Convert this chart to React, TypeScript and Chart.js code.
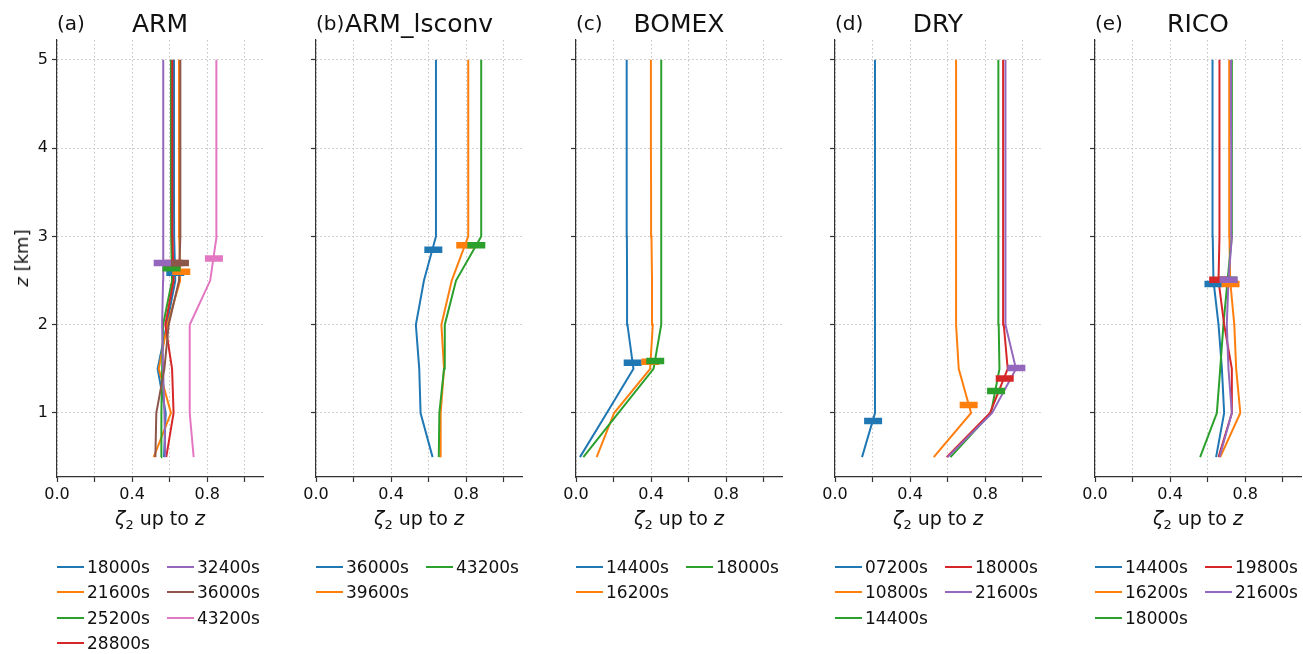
import React, { useEffect, useRef } from 'react';
import { Chart, registerables } from 'chart.js';

Chart.register(...registerables);

// ---------- data ----------
const heights = [0.5, 1.0, 1.5, 2.0, 2.5, 3.0, 3.5, 4.0, 4.5, 5.0];

const armTimes = ['18000s', '21600s', '25200s', '28800s', '32400s', '36000s', '43200s'];
const arm18000 = [0.570, 0.579, 0.536, 0.585, 0.630, 0.624, 0.623, 0.623, 0.623, 0.623];
const arm21600 = [0.515, 0.607, 0.542, 0.588, 0.656, 0.651, 0.650, 0.650, 0.650, 0.650];
const arm25200 = [0.554, 0.556, 0.560, 0.565, 0.613, 0.608, 0.607, 0.607, 0.607, 0.607];
const arm28800 = [0.582, 0.621, 0.613, 0.577, 0.621, 0.615, 0.614, 0.614, 0.614, 0.614];
const arm32400 = [0.577, 0.572, 0.565, 0.560, 0.565, 0.566, 0.566, 0.566, 0.566, 0.566];
const arm36000 = [0.524, 0.529, 0.572, 0.595, 0.650, 0.657, 0.657, 0.657, 0.657, 0.657];
const arm43200 = [0.728, 0.707, 0.707, 0.707, 0.816, 0.850, 0.849, 0.849, 0.849, 0.849];
const armBarZ = [2.59, 2.60, 2.64, 2.70, 2.70, 2.70, 2.75];
const armBarX = [0.630, 0.662, 0.610, 0.622, 0.563, 0.655, 0.836];

const lsTimes = ['36000s', '39600s', '43200s'];
const ls36000 = [0.621, 0.557, 0.550, 0.532, 0.575, 0.639, 0.639, 0.639, 0.639, 0.639];
const ls39600 = [0.664, 0.664, 0.682, 0.668, 0.723, 0.811, 0.811, 0.811, 0.811, 0.811];
const ls43200 = [0.654, 0.657, 0.682, 0.686, 0.746, 0.880, 0.880, 0.880, 0.880, 0.880];
const lsBarZ = [2.85, 2.90, 2.90];
const lsBarX = [0.625, 0.795, 0.854];

const bomexTimes = ['14400s', '16200s', '18000s'];
const bomex14400 = [0.021, 0.164, 0.306, 0.274, 0.272, 0.271, 0.270, 0.270, 0.270, 0.270];
const bomex16200 = [0.110, 0.203, 0.395, 0.409, 0.405, 0.402, 0.400, 0.399, 0.399, 0.399];
const bomex18000 = [0.039, 0.226, 0.413, 0.454, 0.454, 0.454, 0.454, 0.454, 0.454, 0.454];
const bomexBarZ = [1.57, 1.58, 1.59];
const bomexBarX = [0.302, 0.396, 0.422];

const dryTimes = ['07200s', '10800s', '14400s', '18000s', '21600s'];
const dry07200 = [0.144, 0.213, 0.213, 0.213, 0.213, 0.213, 0.213, 0.213, 0.213, 0.213];
const dry10800 = [0.526, 0.725, 0.659, 0.645, 0.645, 0.645, 0.645, 0.645, 0.645, 0.645];
const dry14400 = [0.615, 0.831, 0.876, 0.872, 0.871, 0.870, 0.870, 0.870, 0.870, 0.870];
const dry18000 = [0.595, 0.826, 0.920, 0.899, 0.897, 0.896, 0.895, 0.895, 0.895, 0.895];
const dry21600 = [0.600, 0.837, 0.964, 0.908, 0.908, 0.908, 0.908, 0.908, 0.908, 0.908];
const dryBarZ = [0.91, 1.09, 1.25, 1.39, 1.51];
const dryBarX = [0.203, 0.712, 0.858, 0.904, 0.966];

const ricoTimes = ['14400s', '16200s', '18000s', '19800s', '21600s'];
const rico14400 = [0.645, 0.688, 0.676, 0.658, 0.631, 0.627, 0.626, 0.626, 0.626, 0.626];
const rico16200 = [0.667, 0.774, 0.752, 0.742, 0.720, 0.716, 0.715, 0.715, 0.715, 0.715];
const rico18000 = [0.560, 0.649, 0.667, 0.684, 0.706, 0.729, 0.729, 0.729, 0.729, 0.729];
const rico19800 = [0.658, 0.729, 0.729, 0.688, 0.658, 0.663, 0.663, 0.663, 0.663, 0.663];
const rico21600 = [0.663, 0.729, 0.711, 0.702, 0.711, 0.729, 0.726, 0.725, 0.724, 0.724];
const ricoBarZ = [2.46, 2.46, 2.51, 2.51, 2.51];
const ricoBarX = [0.631, 0.722, 0.710, 0.656, 0.712];

const panelTags = ['(a)', '(b)', '(c)', '(d)', '(e)'];
const panelNames = ['ARM', 'ARM_lsconv', 'BOMEX', 'DRY', 'RICO'];

const xTickValues = [0, 0.2, 0.4, 0.6, 0.8, 1.0];
const xTickLabels = ['0.0', '', '0.4', '', '0.8', ''];
const yTickValues = [1, 2, 3, 4, 5];
const yTickLabels = ['1', '2', '3', '4', '5'];

const COLORS = ['#1f77b4', '#ff7f0e', '#2ca02c', '#d62728', '#9467bd', '#8c564b', '#e377c2'];

const panels = [
  { times: armTimes, profiles: [arm18000, arm21600, arm25200, arm28800, arm32400, arm36000, arm43200], barZ: armBarZ, barX: armBarX },
  { times: lsTimes, profiles: [ls36000, ls39600, ls43200], barZ: lsBarZ, barX: lsBarX },
  { times: bomexTimes, profiles: [bomex14400, bomex16200, bomex18000], barZ: bomexBarZ, barX: bomexBarX },
  { times: dryTimes, profiles: [dry07200, dry10800, dry14400, dry18000, dry21600], barZ: dryBarZ, barX: dryBarX },
  { times: ricoTimes, profiles: [rico14400, rico16200, rico18000, rico19800, rico21600], barZ: ricoBarZ, barX: ricoBarX },
];

// ---------- layout ----------
const FONT = '"DejaVu Sans", sans-serif';
const PANEL_LEFT0 = 56.5;
const PANEL_STEP = 259.6;
const AXIS_W = 50;
const PLOT_W = 206;
const PLOT_TOP = 40;
const PLOT_H = 437;
const XAXIS_H = 50;
const CANVAS_W = AXIS_W + PLOT_W + 6;
const CANVAS_H = PLOT_TOP + PLOT_H + XAXIS_H;

function buildConfig(idx: number) {
  const p = panels[idx];
  const datasets: any[] = [];
  p.profiles.forEach((vals, i) => {
    datasets.push({
      label: p.times[i],
      data: heights.map((h, k) => ({ x: vals[k], y: h })),
      showLine: true,
      borderColor: COLORS[i],
      backgroundColor: COLORS[i],
      borderWidth: 2,
      pointRadius: 0,
      pointHoverRadius: 0,
      order: 100 - i,
    });
  });
  p.barX.forEach((bx, i) => {
    datasets.push({
      label: p.times[i] + ' top',
      data: [{ x: bx, y: p.barZ[i] }],
      showLine: false,
      pointStyle: 'line',
      pointRadius: 9,
      pointHoverRadius: 9,
      pointBorderWidth: 6.5,
      borderColor: COLORS[i],
      backgroundColor: COLORS[i],
      order: 50 - i,
    });
  });
  const gridCommon = {
    color: '#c4c4c4',
    lineWidth: 1,
    tickColor: '#333',
    tickLength: 5,
    tickWidth: 1.2,
    tickBorderDash: [],
  };
  return {
    type: 'scatter',
    data: { datasets },
    options: {
      animation: false,
      responsive: false,
      maintainAspectRatio: false,
      events: [],
      layout: { padding: { top: PLOT_TOP, right: 6, bottom: 0, left: 0 } },
      plugins: { legend: { display: false }, tooltip: { enabled: false }, title: { display: false } },
      scales: {
        x: {
          type: 'linear',
          min: 0,
          max: 1.1,
          afterBuildTicks: (s: any) => { s.ticks = xTickValues.map((v) => ({ value: v })); },
          afterFit: (s: any) => { s.height = XAXIS_H; },
          ticks: {
            autoSkip: false,
            maxRotation: 0,
            minRotation: 0,
            padding: 3,
            color: '#111',
            font: { family: FONT, size: 16 },
            callback: (v: any) => {
              const k = xTickValues.findIndex((t) => Math.abs(t - Number(v)) < 1e-9);
              return k >= 0 ? xTickLabels[k] : '';
            },
          },
          grid: gridCommon,
          border: { display: true, color: '#333', width: 1.2, dash: [1.5, 2.5] },
        },
        y: {
          type: 'linear',
          min: 0.275,
          max: 5.225,
          afterBuildTicks: (s: any) => { s.ticks = yTickValues.map((v) => ({ value: v })); },
          afterFit: (s: any) => { s.width = AXIS_W; },
          ticks: {
            autoSkip: false,
            padding: 4,
            color: '#111',
            font: { family: FONT, size: 16 },
            callback: (v: any) => {
              if (idx !== 0) return '';
              const k = yTickValues.findIndex((t) => Math.abs(t - Number(v)) < 1e-9);
              return k >= 0 ? yTickLabels[k] : '';
            },
          },
          grid: gridCommon,
          border: { display: true, color: '#333', width: 1.2, dash: [1.5, 2.5] },
        },
      },
    },
  } as any;
}

function PanelChart({ idx }: { idx: number }) {
  const ref = useRef<HTMLCanvasElement>(null);
  useEffect(() => {
    const canvas = ref.current as HTMLCanvasElement;
    let chart = new Chart(canvas, buildConfig(idx));
    // measure the plot area once and enlarge the canvas so it lands exactly where wanted
    const ca = chart.chartArea;
    const w2 = Math.round(CANVAS_W + (AXIS_W + PLOT_W - ca.right));
    const h2 = Math.round(CANVAS_H + (PLOT_TOP + PLOT_H - ca.bottom));
    chart.destroy();
    canvas.width = w2;
    canvas.height = h2;
    canvas.style.width = w2 + 'px';
    canvas.style.height = h2 + 'px';
    chart = new Chart(canvas, buildConfig(idx));
    return () => chart.destroy();
  }, []);
  const L = Math.round(PANEL_LEFT0 + PANEL_STEP * idx);
  return (
    <canvas
      ref={ref}
      width={CANVAS_W}
      height={CANVAS_H}
      style={{ position: 'absolute', left: L - AXIS_W, top: 0, width: CANVAS_W, height: CANVAS_H }}
    />
  );
}

function Overlay({ idx }: { idx: number }) {
  const p = panels[idx];
  const L = Math.round(PANEL_LEFT0 + PANEL_STEP * idx);
  const cx = L + PLOT_W / 2;
  const n = p.times.length;
  const nrows = Math.ceil(n / 2);
  return (
    <>
      <div style={{ position: 'absolute', left: L, top: 12, fontSize: 20, lineHeight: '22px', whiteSpace: 'nowrap' }}>
        {panelTags[idx]}
      </div>
      <div style={{ position: 'absolute', left: cx, top: 10, transform: 'translateX(-50%)', fontSize: 25, lineHeight: '27px', whiteSpace: 'nowrap' }}>
        {panelNames[idx]}
      </div>
      <div style={{ position: 'absolute', left: cx, top: 507, transform: 'translateX(-50%)', fontSize: 19, lineHeight: '22px', whiteSpace: 'nowrap' }}>
        <span style={{ fontStyle: 'italic' }}>ζ</span>
        <span style={{ fontSize: 13, position: 'relative', top: 4 }}>2</span>
        <span> up to </span>
        <span style={{ fontStyle: 'italic' }}>z</span>
      </div>
      {p.times.map((t, i) => {
        const col = Math.floor(i / nrows);
        const row = i % nrows;
        const x0 = L + col * 110;
        const yc = 567 + row * 25.3;
        return (
          <React.Fragment key={t + i}>
            <div style={{ position: 'absolute', left: x0, top: yc - 1, width: 27, height: 2, background: COLORS[i] }} />
            <div style={{ position: 'absolute', left: x0 + 30, top: yc - 10, fontSize: 17, lineHeight: '20px', whiteSpace: 'nowrap' }}>{t}</div>
          </React.Fragment>
        );
      })}
    </>
  );
}

export default function App() {
  return (
    <div
      style={{
        position: 'fixed',
        left: 0,
        top: 0,
        width: 1303,
        height: 654,
        background: '#fff',
        fontFamily: FONT,
        color: '#111',
        overflow: 'hidden',
      }}
    >
      {panels.map((_, i) => (
        <PanelChart key={'c' + i} idx={i} />
      ))}
      {panels.map((_, i) => (
        <Overlay key={'o' + i} idx={i} />
      ))}
      <div
        style={{
          position: 'absolute',
          left: 22,
          top: 258,
          transform: 'translate(-50%, -50%) rotate(-90deg)',
          fontSize: 18,
          lineHeight: '20px',
          whiteSpace: 'nowrap',
        }}
      >
        <span style={{ fontStyle: 'italic' }}>z</span> [km]
      </div>
    </div>
  );
}
